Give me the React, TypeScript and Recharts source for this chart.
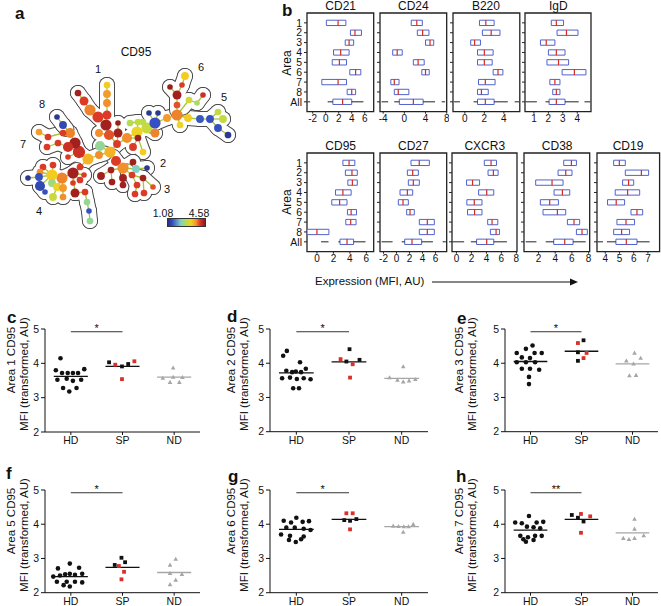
import React from "react";
import {
  ReferenceArea,
  ReferenceDot,
  ReferenceLine,
  Scatter,
  ScatterChart,
  XAxis,
  YAxis,
} from "recharts";

const FONT = "'Liberation Sans', Arial, Helvetica, sans-serif";
const INK = "#111";
const RED = "#d9302a";
const GREY = "#a6a6a6";
const BOX_BLUE = "#5062cc";
const MED_RED = "#d42a20";

// ---------- a: SPADE tree, nodes coloured by CD95 ----------
// area 1 (0-25), areas 5/6 (26-46), areas 2/3 (47-62), areas 7/8 (63-77), area 4 (78-100)
const TREE_X = [
  110, 117, 109, 106, 107, 107, 107, 107, 98, 90, 84, 78, 99, 118, 118, 127, 137, 147, 138, 130, 143, 155, 138, 133, 143, 100,
  155, 149, 158, 167, 177, 177, 177, 170, 182, 185, 189, 197, 203, 188, 180, 200, 210, 218, 223, 218, 228,
  116, 123, 133, 136, 147, 111, 101, 112, 123, 123, 132, 143, 137, 135, 144, 153,
  99, 88, 79, 75, 68, 70, 80, 68, 63, 58, 48, 39, 47, 63, 57,
  73, 62, 52, 43, 53, 40, 39, 28, 40, 45, 52, 57, 53, 63, 63, 75, 80, 84, 85, 87, 89, 90, 73,
];
const TREE_Y = [
  152, 144, 135, 125, 115, 103, 94, 85, 117, 110, 101, 93, 133, 123, 133, 138, 132, 128, 122, 123, 122, 133, 138, 147, 152, 146,
  123, 113, 113, 118, 115, 105, 95, 87, 85, 76, 100, 103, 95, 118, 125, 119, 119, 112, 119, 128, 135,
  161, 168, 162, 169, 168, 170, 176, 182, 178, 185, 175, 178, 185, 194, 193, 187,
  155, 159, 152, 143, 147, 133, 167, 157, 133, 143, 137, 132, 147, 125, 117,
  173, 178, 175, 167, 165, 172, 177, 178, 186, 192, 183, 187, 197, 188, 197, 193, 180, 175, 192, 202, 211, 221, 183,
];
const TREE_SIZE = [
  5, 3.5, 4.5, 5, 4, 3.5, 3.5, 3, 5, 5, 4, 3, 3.5, 2.5, 4, 4.5, 5, 5, 3, 3, 3, 4, 3, 3.5, 3, 4.5,
  5, 2.5, 2.5, 3.5, 5, 3, 4, 2.5, 2.5, 3.5, 3, 2.5, 2.5, 3.5, 3, 3.5, 3.5, 3, 3.5, 3.5, 3,
  4.5, 5, 3, 3.5, 2.5, 3, 3.5, 3, 3.5, 3, 3, 3, 3, 3, 3, 2.5,
  3.5, 5, 5.5, 5, 4.5, 4.5, 3, 2.5, 3, 3, 3, 3, 3, 3.5, 2.5,
  5, 5, 5, 3, 3, 3, 3.5, 2.5, 4.5, 2.5, 3.5, 3.5, 3.5, 3.5, 3, 4, 3, 2.5, 3, 3, 2.5, 3, 2.5,
];
const TREE_CD95 = [
  3.5, 4.1, 4.0, 4.45, 4.1, 3.75, 3.7, 3.3, 4.1, 3.8, 4.1, 4.45, 3.75, 4.5, 4.45, 3.75, 3.2, 2.95, 2.9, 2.8, 2.85, 3.8, 4.45, 4.1, 3.3, 2.5,
  1.5, 1.2, 1.2, 3.7, 3.8, 4.0, 4.45, 4.5, 4.1, 3.3, 3.0, 2.7, 4.2, 3.3, 3.2, 1.55, 1.5, 2.9, 2.9, 1.5, 1.2,
  4.1, 3.75, 4.45, 2.3, 1.2, 4.45, 4.45, 4.45, 4.45, 4.45, 4.1, 4.45, 4.1, 4.1, 4.1, 4.0,
  3.75, 3.5, 4.2, 4.45, 4.2, 3.8, 4.1, 4.1, 4.1, 4.1, 4.1, 3.7, 4.1, 1.4, 1.2,
  4.45, 3.8, 3.3, 4.1, 4.1, 3.75, 1.5, 1.2, 1.4, 1.5, 2.6, 3.2, 2.95, 3.7, 3.75, 4.45, 4.1, 4.1, 4.1, 2.5, 1.5, 2.5, 4.1,
];
const TREE_AREA = [
  1, 1, 1, 1, 1, 1, 1, 1, 1, 1, 1, 1, 1, 1, 1, 1, 1, 1, 1, 1, 1, 1, 1, 1, 1, 1,
  5, 5, 5, 5, 5, 6, 6, 6, 6, 6, 6, 6, 6, 5, 5, 5, 5, 5, 5, 5, 5,
  2, 2, 2, 2, 2, 2, 2, 2, 2, 2, 3, 3, 3, 3, 3, 3,
  7, 7, 7, 7, 7, 7, 7, 7, 7, 7, 7, 7, 7, 8, 8,
  4, 4, 4, 4, 4, 4, 4, 4, 4, 4, 4, 4, 4, 4, 4, 4, 4, 4, 4, 4, 4, 4, 4,
];
const TREE_PARENT = [
  -1, 0, 1, 2, 3, 4, 5, 6, 3, 8, 9, 10, 2, 14, 1, 1, 15, 16, 16, 18, 17, 17, 15, 22, 22, 0,
  17, 26, 26, 26, 29, 30, 31, 32, 32, 34, 30, 36, 37, 30, 30, 39, 41, 42, 42, 42, 45,
  0, 47, 48, 48, 50, 48, 52, 52, 48, 55, 48, 57, 57, 59, 58, 58,
  0, 63, 64, 65, 65, 66, 64, 65, 68, 67, 71, 73, 72, 68, 76,
  69, 78, 79, 80, 80, 80, 80, 84, 80, 86, 80, 79, 89, 79, 91, 78, 78, 78, 93, 96, 97, 98, 78,
];
const CD95_MIN = 1.08;
const CD95_MAX = 4.58;

// ---------- b: box plots per area (rows 1-8, then All) ----------
const CD21_LO = [0.1, 3.8, 3.0, 1.2, 1.0, 3.7, -0.6, 3.3, 1.1];
const CD21_HI = [3.1, 5.5, 4.3, 3.6, 3.2, 5.4, 3.2, 4.6, 4.0];
const CD21_MED = [1.9, 4.5, 3.6, 2.3, 2.1, 4.6, 1.9, 4.0, 2.6];
const CD21_WHISK = [0.3, 5.8];
const CD21_OUT = [[-2.8, -2.4]];

const CD24_LO = [1.3, 2.45, 4.0, -2.2, 1.7, 3.3, -2.55, -1.9, -0.95];
const CD24_HI = [3.4, 4.65, 5.55, -0.4, 3.75, 4.7, -1.0, 0.85, 3.55];
const CD24_MED = [2.35, 3.45, 4.85, -1.35, 2.6, 4.0, -1.9, -1.15, 1.7];
const CD24_WHISK = [-1.9, 5.8];
const CD24_OUT = [[-4.3, -3.05], [7.05, 7.7]];

const B220_LO = [1.5, 1.8, 0.6, 1.3, 1.3, 2.9, 1.4, 1.3, 1.3];
const B220_HI = [3.0, 3.6, 1.6, 2.9, 2.8, 3.9, 3.1, 2.4, 3.0];
const B220_MED = [2.15, 2.7, 1.0, 2.0, 2.0, 3.4, 2.1, 1.7, 2.1];
const B220_WHISK = [0.9, 4.4];
const B220_OUT = [[-1.1, -0.5], [5.1, 5.55]];

const IGD_LO = [2.2, 2.6, 1.45, 2.0, 1.9, 2.95, 2.1, 2.3, 2.05];
const IGD_HI = [3.05, 4.05, 2.45, 3.15, 3.4, 4.6, 2.8, 2.8, 3.15];
const IGD_MED = [2.55, 3.25, 1.85, 2.55, 2.7, 3.8, 2.45, 2.55, 2.55];
const IGD_WHISK = [1.8, 4.1];
const IGD_OUT = [[0.43, 1.2], [4.5, 4.9]];

const CD95_LO = [3.15, 3.45, 3.75, 2.25, 1.8, 3.7, 3.5, -1.2, 2.8];
const CD95_HI = [4.6, 4.9, 4.9, 4.15, 3.65, 4.8, 4.75, 1.45, 4.45];
const CD95_MED = [3.9, 4.25, 4.3, 3.15, 2.75, 4.15, 4.1, 0.0, 3.65];
const CD95_WHISK = [2.6, 5.9];
const CD95_OUT = [[0.5, 1.4]];

const CD27_LO = [2.23, 1.67, 1.82, 0.54, 0.28, 1.56, 3.51, 3.51, 1.26];
const CD27_HI = [5.05, 3.36, 3.51, 2.49, 1.82, 2.74, 5.82, 5.82, 3.87];
const CD27_MED = [3.5, 2.49, 2.59, 1.67, 1.0, 2.08, 4.74, 4.74, 2.38];
const CD27_WHISK = [0.8, 5.6];
const CD27_OUT = [[-2.3, -0.6], [7.1, 7.6]];

const CXCR3_LO = [3.72, 4.22, 1.35, 2.96, 1.39, 1.48, 4.17, 4.53, 2.69];
const CXCR3_HI = [5.34, 5.56, 3.09, 4.98, 3.41, 3.41, 5.52, 5.74, 4.98];
const CXCR3_MED = [4.62, 4.93, 2.15, 4.04, 2.38, 2.42, 4.75, 5.29, 4.04];
const CXCR3_WHISK = [1.93, 6.73];
const CXCR3_OUT = [[-0.54, 1.03]];

const CD38_LO = [5.02, 4.34, 1.66, 3.86, 2.22, 2.54, 5.46, 6.54, 3.82];
const CD38_HI = [6.54, 6.01, 4.94, 5.74, 4.38, 5.26, 6.93, 7.85, 6.14];
const CD38_MED = [5.94, 5.26, 3.62, 4.86, 3.34, 4.26, 6.25, 7.21, 5.14];
const CD38_WHISK = [2.86, 7.65];
const CD38_OUT = [[0.47, 1.75]];

const CD19_LO = [4.59, 5.41, 5.22, 4.7, 4.16, 5.81, 4.82, 4.59, 4.75];
const CD19_HI = [5.41, 7.05, 6.0, 6.42, 5.36, 6.63, 6.06, 5.71, 6.23];
const CD19_MED = [4.99, 6.54, 5.64, 5.57, 4.77, 6.23, 5.46, 5.15, 5.48];
const CD19_WHISK = [4.12, 7.12];
const CD19_OUT = [[3.46, 3.84]];

const ROW_LABELS = ["1", "2", "3", "4", "5", "6", "7", "8", "All"];

// ---------- c-h: area CD95 MFI per donor group ----------
const GROUPS = ["HD", "SP", "ND"];

// [x, y] ; SP rows carry a third flag: 1 = red square
const C_HD = [[0.8, 4.15], [0.71, 3.8], [0.83, 3.72], [0.94, 3.72], [1.04, 3.72], [1.14, 3.72], [1.26, 3.83], [0.74, 3.52], [0.92, 3.55], [1.04, 3.49], [1.2, 3.52], [0.85, 3.28], [1.11, 3.28], [0.97, 3.18]];
const C_SP = [[1.74, 4.03, 0], [1.86, 3.96, 1], [1.99, 3.91, 0], [2.11, 3.98, 0], [2.23, 4.06, 1], [1.99, 3.54, 1]];
const C_ND = [[2.98, 3.87], [2.78, 3.57], [2.98, 3.6], [3.16, 3.59], [2.92, 3.45], [3.1, 3.45]];
const C_MED = [3.62, 3.91, 3.6];

const D_HD = [[0.82, 4.36], [0.75, 4.22], [1.07, 4.03], [0.81, 3.78], [0.92, 3.74], [0.99, 3.76], [1.09, 3.74], [1.18, 3.84], [0.73, 3.56], [0.88, 3.58], [1.01, 3.54], [1.14, 3.56], [1.27, 3.53], [0.94, 3.27], [1.05, 3.27]];
const D_SP = [[2.01, 4.41, 0], [1.84, 4.12, 1], [1.95, 4.05, 0], [2.07, 3.97, 1], [2.2, 4.1, 0], [2.02, 3.58, 1]];
const D_ND = [[3.03, 3.9], [2.77, 3.58], [2.92, 3.51], [3.03, 3.46], [3.14, 3.49], [3.26, 3.53]];
const D_MED = [3.72, 4.04, 3.56];

const E_HD = [[1.04, 4.52], [0.91, 4.42], [0.73, 4.3], [1.08, 4.3], [1.22, 4.3], [0.83, 4.17], [0.99, 4.15], [0.73, 4.03], [0.91, 4.03], [1.09, 4.03], [0.83, 3.84], [0.99, 3.84], [1.17, 3.81], [0.97, 3.6], [0.97, 3.39]];
const E_SP = [[1.93, 4.59, 1], [2.04, 4.67, 0], [1.93, 4.32, 0], [2.1, 4.3, 1], [2.04, 4.15, 1], [1.93, 4.07, 0]];
const E_ND = [[3.04, 4.3], [2.88, 4.07], [3.16, 4.15], [3.02, 3.98], [2.94, 3.64], [3.07, 3.65]];
const E_MED = [4.05, 4.35, 3.98];

const F_HD = [[0.75, 2.71], [0.98, 2.85], [1.16, 2.73], [0.79, 2.5], [0.89, 2.54], [0.98, 2.55], [1.08, 2.52], [1.22, 2.55], [0.73, 2.32], [0.92, 2.32], [1.08, 2.32], [1.22, 2.3], [0.86, 2.22], [0.98, 2.18], [0.66, 2.47]];
const F_SP = [[1.98, 3.02, 0], [2.05, 2.89, 0], [1.85, 2.81, 0], [1.93, 2.78, 1], [2.03, 2.61, 1], [1.98, 2.39, 1]];
const F_ND = [[3.03, 2.98], [2.92, 2.81], [3.15, 2.54], [2.92, 2.57], [3.03, 2.37], [2.92, 2.24]];
const F_MED = [2.47, 2.74, 2.59];

const G_HD = [[1.0, 4.19], [0.76, 4.1], [0.9, 4.05], [1.12, 4.07], [1.24, 4.09], [0.81, 3.9], [0.97, 3.9], [1.14, 3.87], [1.27, 3.83], [0.71, 3.7], [0.88, 3.66], [1.14, 3.64], [0.86, 3.54], [1.09, 3.56], [0.99, 3.48]];
const G_SP = [[1.95, 4.32, 1], [2.07, 4.32, 1], [1.91, 4.12, 0], [2.02, 4.1, 0], [2.14, 4.15, 0], [2.02, 3.85, 1]];
const G_ND = [[2.84, 3.95], [2.94, 3.94], [3.04, 3.93], [3.13, 3.93], [3.22, 4.0], [3.03, 3.77]];
const G_MED = [3.85, 4.14, 3.93];

const H_HD = [[0.97, 4.24], [0.7, 4.05], [0.83, 4.03], [1.12, 4.05], [1.25, 4.07], [0.93, 3.93], [1.06, 3.91], [1.19, 3.88], [0.8, 3.66], [0.95, 3.62], [1.09, 3.66], [1.22, 3.66], [0.86, 3.56], [1.06, 3.54], [0.91, 3.49]];
const H_SP = [[1.81, 4.27, 0], [1.99, 4.3, 1], [1.93, 4.19, 0], [2.04, 4.08, 0], [2.17, 4.23, 1], [1.99, 3.75, 1]];
const H_ND = [[3.04, 4.15], [3.04, 3.86], [2.82, 3.59], [2.93, 3.56], [3.04, 3.59], [3.22, 3.67]];
const H_MED = [3.83, 4.14, 3.75];

const SIG_LEVEL = 4.92;

// ---------- colours ----------
const HEAT_STOPS: [number, string][] = [
  [0, "#28307e"],
  [0.12, "#3550c2"],
  [0.35, "#7fd3c4"],
  [0.5, "#b9dc4a"],
  [0.62, "#f4d21e"],
  [0.75, "#f39a2b"],
  [0.87, "#d93427"],
  [1, "#8c1a1a"],
];

function rgb(h: string) {
  return [1, 3, 5].map((i) => parseInt(h.slice(i, i + 2), 16));
}

function heat(v: number) {
  const t = Math.max(0, Math.min(1, (v - CD95_MIN) / (CD95_MAX - CD95_MIN)));
  for (let i = 1; i < HEAT_STOPS.length; i++) {
    const [t1, c1] = HEAT_STOPS[i];
    const [t0, c0] = HEAT_STOPS[i - 1];
    if (t <= t1) {
      const f = (t - t0) / (t1 - t0);
      const a = rgb(c0);
      const b = rgb(c1);
      return `rgb(${a.map((x, k) => Math.round(x + (b[k] - x) * f)).join(",")})`;
    }
  }
  return HEAT_STOPS[HEAT_STOPS.length - 1][1];
}

function Txt({ x, y, children, size = 11, bold = false, anchor = "middle", rotate = false }: any) {
  const tx = anchor === "middle" ? "-50%" : anchor === "end" ? "-100%" : "0";
  return (
    <div
      style={{
        position: "absolute",
        left: x,
        top: y,
        transform: `translate(${tx}, -50%)${rotate ? " rotate(-90deg)" : ""}`,
        fontSize: size,
        fontWeight: bold ? 700 : 400,
        whiteSpace: "nowrap",
        lineHeight: 1,
        color: INK,
      }}
    >
      {children}
    </div>
  );
}

// ---------- panel a ----------
const AREA_ORDER = [1, 5, 6, 2, 3, 7, 8, 4];
const BUF = 7;
const NODE_SCALE = 1.12;

function TreePanel() {
  const pt = (i: number) => ({ x: TREE_X[i], y: TREE_Y[i] });
  const nodes = TREE_X.map((x, i) => ({ x, y: TREE_Y[i], r: TREE_SIZE[i] * NODE_SCALE, fill: heat(TREE_CD95[i]) }));
  const outline: React.ReactNode[] = [];
  AREA_ORDER.forEach((area, k) => {
    const members = TREE_X.map((_, i) => i).filter((i) => TREE_AREA[i] === area);
    const passes: [string, number][] = [["#4a4a4a", BUF + 1], ["#fff", BUF]];
    passes.forEach(([col, rad], pass) => {
      const z = 10 + k * 4 + pass * 2;
      members.forEach((i) => {
        const p = TREE_PARENT[i];
        if (p < 0) return;
        const end = TREE_AREA[p] === area ? pt(p) : { x: (TREE_X[i] + TREE_X[p]) / 2, y: (TREE_Y[i] + TREE_Y[p]) / 2 };
        outline.push(
          <ReferenceLine key={`l${k}-${pass}-${i}`} segment={[pt(i), end]} stroke={col} strokeWidth={rad * 2} strokeLinecap="round" ifOverflow="visible" zIndex={z} />
        );
      });
      members.forEach((i) => {
        outline.push(
          <ReferenceDot key={`d${k}-${pass}-${i}`} x={TREE_X[i]} y={TREE_Y[i]} r={rad} fill={col} stroke="none" ifOverflow="visible" zIndex={z + 1} />
        );
      });
    });
  });

  return (
    <div style={{ position: "absolute", left: 0, top: 40 }}>
      <ScatterChart width={240} height={200} margin={{ top: 0, right: 0, bottom: 0, left: 0 }}>
        <XAxis type="number" dataKey="x" domain={[0, 240]} hide allowDataOverflow />
        <YAxis type="number" dataKey="y" domain={[40, 240]} reversed hide allowDataOverflow />
        {outline}
        {TREE_PARENT.map((p, i) =>
          p < 0 ? null : (
            <ReferenceLine key={`e${i}`} segment={[pt(i), pt(p)]} stroke="#a8c63c" strokeWidth={1.3} ifOverflow="visible" zIndex={100} />
          )
        )}
        <Scatter
          data={nodes}
          isAnimationActive={false}
          zIndex={200}
          shape={(s: any) => <circle cx={s.cx} cy={s.cy} r={s.payload.r} fill={s.payload.fill} />}
        />
      </ScatterChart>
    </div>
  );
}

// ---------- panel b ----------
const ROWS = [1, 2, 3, 4, 5, 6, 7, 8, 9];
const BOX_H = 98.7;

const BOX_PANELS = [
  { title: "CD21", left: 307.3, top: 13.3, width: 66.7, domain: [-2.88, 7.38], ticks: [-2, 0, 2, 4, 6], lo: CD21_LO, hi: CD21_HI, med: CD21_MED, whisk: CD21_WHISK, out: CD21_OUT, labels: true },
  { title: "CD24", left: 380, top: 13.3, width: 66.7, domain: [-4.6, 8], ticks: [-4, 0, 4, 8], lo: CD24_LO, hi: CD24_HI, med: CD24_MED, whisk: CD24_WHISK, out: CD24_OUT, labels: false },
  { title: "B220", left: 452.5, top: 13.3, width: 66.8, domain: [-1.21, 5.63], ticks: [0, 2, 4], lo: B220_LO, hi: B220_HI, med: B220_MED, whisk: B220_WHISK, out: B220_OUT, labels: false },
  { title: "IgD", left: 525.3, top: 13.3, width: 66, domain: [0.38, 4.95], ticks: [1, 2, 3, 4], lo: IGD_LO, hi: IGD_HI, med: IGD_MED, whisk: IGD_WHISK, out: IGD_OUT, labels: false },
  { title: "CD95", left: 307.3, top: 153.3, width: 66.7, domain: [-1.21, 6.89], ticks: [0, 2, 4, 6], lo: CD95_LO, hi: CD95_HI, med: CD95_MED, whisk: CD95_WHISK, out: CD95_OUT, labels: true },
  { title: "CD27", left: 380, top: 153.3, width: 66.7, domain: [-2.54, 7.72], ticks: [-2, 0, 2, 4, 6], lo: CD27_LO, hi: CD27_HI, med: CD27_MED, whisk: CD27_WHISK, out: CD27_OUT, labels: false },
  { title: "CXCR3", left: 452.3, top: 153.3, width: 65, domain: [-0.59, 8.08], ticks: [0, 2, 4, 6, 8], lo: CXCR3_LO, hi: CXCR3_HI, med: CXCR3_MED, whisk: CXCR3_WHISK, out: CXCR3_OUT, labels: false },
  { title: "CD38", left: 524.3, top: 153.3, width: 65.7, domain: [0.26, 8.13], ticks: [2, 4, 6, 8], lo: CD38_LO, hi: CD38_HI, med: CD38_MED, whisk: CD38_WHISK, out: CD38_OUT, labels: false },
  { title: "CD19", left: 596.7, top: 153.3, width: 62.6, domain: [3.42, 7.82], ticks: [4, 5, 6, 7], lo: CD19_LO, hi: CD19_HI, med: CD19_MED, whisk: CD19_WHISK, out: CD19_OUT, labels: false },
];

const MedianTick = (s: any) => (
  <line x1={s.cx} x2={s.cx} y1={s.cy - 2.7} y2={s.cy + 2.7} stroke={MED_RED} strokeWidth={1.2} />
);

function BoxPanel({ spec }: { spec: (typeof BOX_PANELS)[number] }) {
  const yw = spec.labels ? 24 : 3;
  const xh = 15;
  const medians = spec.med.map((m, i) => ({ x: m, y: i + 1 }));
  const allRow = 9;
  return (
    <>
      <div style={{ position: "absolute", left: spec.left - yw, top: spec.top - 1 }}>
        <ScatterChart width={yw + spec.width + 2} height={1 + BOX_H + xh} margin={{ top: 1, right: 2, bottom: 0, left: 0 }}>
          <XAxis
            type="number"
            dataKey="x"
            domain={spec.domain}
            ticks={spec.ticks}
            interval={0}
            allowDataOverflow
            axisLine={false}
            tickSize={2}
            tickMargin={1}
            height={xh}
            tick={{ fontSize: 10, fill: INK }}
            tickLine={{ stroke: "#222" }}
          />
          <YAxis
            type="number"
            dataKey="y"
            domain={[0, 10]}
            reversed
            ticks={ROWS}
            interval={0}
            allowDataOverflow
            width={yw}
            axisLine={false}
            tickSize={3}
            tickMargin={2}
            tickLine={{ stroke: "#222" }}
            tick={{ fontSize: 10.5, fill: INK }}
            tickFormatter={(v: number) => (spec.labels ? ROW_LABELS[v - 1] : "")}
          />
          <YAxis
            yAxisId="r"
            orientation="right"
            mirror
            type="number"
            domain={[0, 10]}
            reversed
            ticks={ROWS}
            interval={0}
            axisLine={false}
            tickSize={2}
            tickLine={{ stroke: "#222" }}
            tickFormatter={() => ""}
          />
          <ReferenceArea x1={spec.domain[0]} x2={spec.domain[1]} y1={0} y2={10} fill="none" stroke="#222" strokeWidth={1.3} ifOverflow="visible" />
          <ReferenceLine segment={[{ x: spec.whisk[0], y: allRow }, { x: spec.lo[8], y: allRow }]} stroke="#222" strokeWidth={1} ifOverflow="visible" />
          <ReferenceLine segment={[{ x: spec.hi[8], y: allRow }, { x: spec.whisk[1], y: allRow }]} stroke="#222" strokeWidth={1} ifOverflow="visible" />
          {spec.out.map(([a, b], i) => (
            <ReferenceLine key={`o${i}`} segment={[{ x: a, y: allRow }, { x: b, y: allRow }]} stroke="#222" strokeWidth={1} ifOverflow="visible" />
          ))}
          {spec.lo.map((lo, i) => (
            <ReferenceArea
              key={`b${i}`}
              x1={lo}
              x2={spec.hi[i]}
              y1={i + 1 - 0.27}
              y2={i + 1 + 0.27}
              fill="#fff"
              fillOpacity={1}
              stroke={BOX_BLUE}
              strokeWidth={1}
              ifOverflow="visible"
            />
          ))}
          <Scatter data={medians} shape={MedianTick} isAnimationActive={false} />
        </ScatterChart>
      </div>
      <Txt x={spec.left + spec.width / 2} y={spec.top - 7.5} size={12}>
        {spec.title}
      </Txt>
    </>
  );
}

// ---------- panels c-h ----------
const DOT_PANELS = [
  { letter: "c", area: "1", hd: C_HD, sp: C_SP, nd: C_ND, med: C_MED, star: "*", axisX: 45, right: 200, yTop: 329.3, yBot: 432.3, letterX: 7, letterY: 317, lab1: 12, lab2: 25 },
  { letter: "d", area: "2", hd: D_HD, sp: D_SP, nd: D_ND, med: D_MED, star: "*", axisX: 270, right: 428, yTop: 329.3, yBot: 432, letterX: 227, letterY: 316, lab1: 232, lab2: 245 },
  { letter: "e", area: "3", hd: E_HD, sp: E_SP, nd: E_ND, med: E_MED, star: "*", axisX: 505, right: 658, yTop: 329.3, yBot: 432, letterX: 457, letterY: 318, lab1: 460, lab2: 473 },
  { letter: "f", area: "5", hd: F_HD, sp: F_SP, nd: F_ND, med: F_MED, star: "*", axisX: 45, right: 200, yTop: 490, yBot: 592.7, letterX: 6, letterY: 473, lab1: 12, lab2: 25 },
  { letter: "g", area: "6", hd: G_HD, sp: G_SP, nd: G_ND, med: G_MED, star: "*", axisX: 270, right: 428, yTop: 490, yBot: 592.7, letterX: 228, letterY: 476, lab1: 232, lab2: 245 },
  { letter: "h", area: "7", hd: H_HD, sp: H_SP, nd: H_ND, med: H_MED, star: "**", axisX: 505, right: 658, yTop: 490, yBot: 592.7, letterX: 456, letterY: 476, lab1: 460, lab2: 473 },
];

const dotShape = (s: any) => <circle cx={s.cx} cy={s.cy} r={2.3} fill={INK} />;
const squareShape = (s: any) => (
  <rect x={s.cx - 1.9} y={s.cy - 1.9} width={3.8} height={3.8} fill={s.payload.red ? RED : INK} />
);
const triShape = (s: any) => (
  <path d={`M${s.cx},${s.cy - 2.4}L${s.cx + 2.3},${s.cy + 1.7}L${s.cx - 2.3},${s.cy + 1.7}Z`} fill={GREY} />
);

function DotPanel({ cfg }: { cfg: (typeof DOT_PANELS)[number] }) {
  const yw = 30;
  const mt = 12;
  const xh = 22;
  const plotH = cfg.yBot - cfg.yTop;
  const hd = cfg.hd.map(([x, y]) => ({ x, y }));
  const sp = cfg.sp.map(([x, y, red]) => ({ x, y, red }));
  const nd = cfg.nd.map(([x, y]) => ({ x, y }));
  return (
    <>
      <div style={{ position: "absolute", left: cfg.axisX - yw, top: cfg.yTop - mt }}>
        <ScatterChart width={yw + (cfg.right - cfg.axisX) + 2} height={mt + plotH + xh} margin={{ top: mt, right: 2, bottom: 0, left: 0 }}>
          <XAxis
            type="number"
            dataKey="x"
            domain={[0.5, 3.5]}
            ticks={[1, 2, 3]}
            interval={0}
            allowDataOverflow
            height={xh}
            tickSize={3}
            tickMargin={2}
            axisLine={{ stroke: INK }}
            tickLine={{ stroke: INK }}
            tick={{ fontSize: 10.5, fill: INK }}
            tickFormatter={(v: number) => GROUPS[v - 1]}
          />
          <YAxis
            type="number"
            dataKey="y"
            domain={[2, 5]}
            ticks={[2, 3, 4, 5]}
            interval={0}
            allowDataOverflow
            width={yw}
            tickSize={4}
            tickMargin={2}
            axisLine={{ stroke: INK }}
            tickLine={{ stroke: INK }}
            tick={{ fontSize: 10.5, fill: INK }}
          />
          {cfg.med.map((m, i) => (
            <ReferenceLine
              key={`m${i}`}
              segment={[{ x: i + 1 - 0.33, y: m }, { x: i + 1 + 0.33, y: m }]}
              stroke={i === 2 ? GREY : INK}
              strokeWidth={1.3}
            />
          ))}
          <ReferenceLine segment={[{ x: 1, y: SIG_LEVEL }, { x: 2, y: SIG_LEVEL }]} stroke="#333" strokeWidth={1} />
          <ReferenceDot
            x={1.5}
            y={SIG_LEVEL}
            r={0}
            stroke="none"
            label={{ value: cfg.star, position: "top", offset: 0, fontSize: 11, fill: INK }}
          />
          <Scatter data={hd} shape={dotShape} isAnimationActive={false} />
          <Scatter data={sp} shape={squareShape} isAnimationActive={false} />
          <Scatter data={nd} shape={triShape} isAnimationActive={false} />
        </ScatterChart>
      </div>
      <Txt x={cfg.letterX} y={cfg.letterY} size={17} bold anchor="start">
        {cfg.letter}
      </Txt>
      <Txt x={cfg.lab1} y={cfg.yTop + 31} size={11.5} rotate>
        {`Area ${cfg.area} CD95`}
      </Txt>
      <Txt x={cfg.lab2} y={cfg.yTop + 45} size={11.5} rotate>
        MFI (transformed, AU)
      </Txt>
    </>
  );
}

const HEAT_GRADIENT = `linear-gradient(to right, ${HEAT_STOPS.map(([t, c]) => `${c} ${t * 100}%`).join(", ")})`;

export default function App() {
  return (
    <div
      style={{
        position: "absolute",
        left: 0,
        top: 0,
        width: 661,
        height: 606,
        background: "#fff",
        fontFamily: FONT,
        color: INK,
        overflow: "hidden",
      }}
    >
      {/* a */}
      <Txt x={15} y={13} size={17} bold anchor="start">a</Txt>
      <TreePanel />
      <Txt x={136} y={52} size={12}>CD95</Txt>
      <Txt x={98} y={69} size={11}>1</Txt>
      <Txt x={201} y={67} size={11}>6</Txt>
      <Txt x={224} y={97} size={11}>5</Txt>
      <Txt x={42} y={104} size={11}>8</Txt>
      <Txt x={23} y={144} size={11}>7</Txt>
      <Txt x={163} y={163} size={11}>2</Txt>
      <Txt x={167} y={189} size={11}>3</Txt>
      <Txt x={39} y={211} size={11}>4</Txt>
      <Txt x={163} y={213} size={10.5}>1.08</Txt>
      <Txt x={199} y={213} size={10.5}>4.58</Txt>
      <div
        style={{
          position: "absolute",
          left: 167,
          top: 218,
          width: 37,
          height: 7,
          border: "1px solid #333",
          background: HEAT_GRADIENT,
        }}
      />

      {/* b */}
      <Txt x={282} y={10} size={17} bold anchor="start">b</Txt>
      <Txt x={287} y={63} size={12} rotate>Area</Txt>
      <Txt x={287} y={202} size={12} rotate>Area</Txt>
      {BOX_PANELS.map((s) => (
        <BoxPanel key={s.title} spec={s} />
      ))}
      <Txt x={315} y={282} size={11.5} anchor="start">Expression (MFI, AU)</Txt>
      <svg style={{ position: "absolute", left: 430, top: 276 }} width={152} height={12}>
        <line x1={2} y1={6} x2={142} y2={6} stroke={INK} strokeWidth={1} />
        <path d="M140,2.5 L148,6 L140,9.5 Z" fill={INK} />
      </svg>

      {/* c-h */}
      {DOT_PANELS.map((c) => (
        <DotPanel key={c.letter} cfg={c} />
      ))}
    </div>
  );
}
